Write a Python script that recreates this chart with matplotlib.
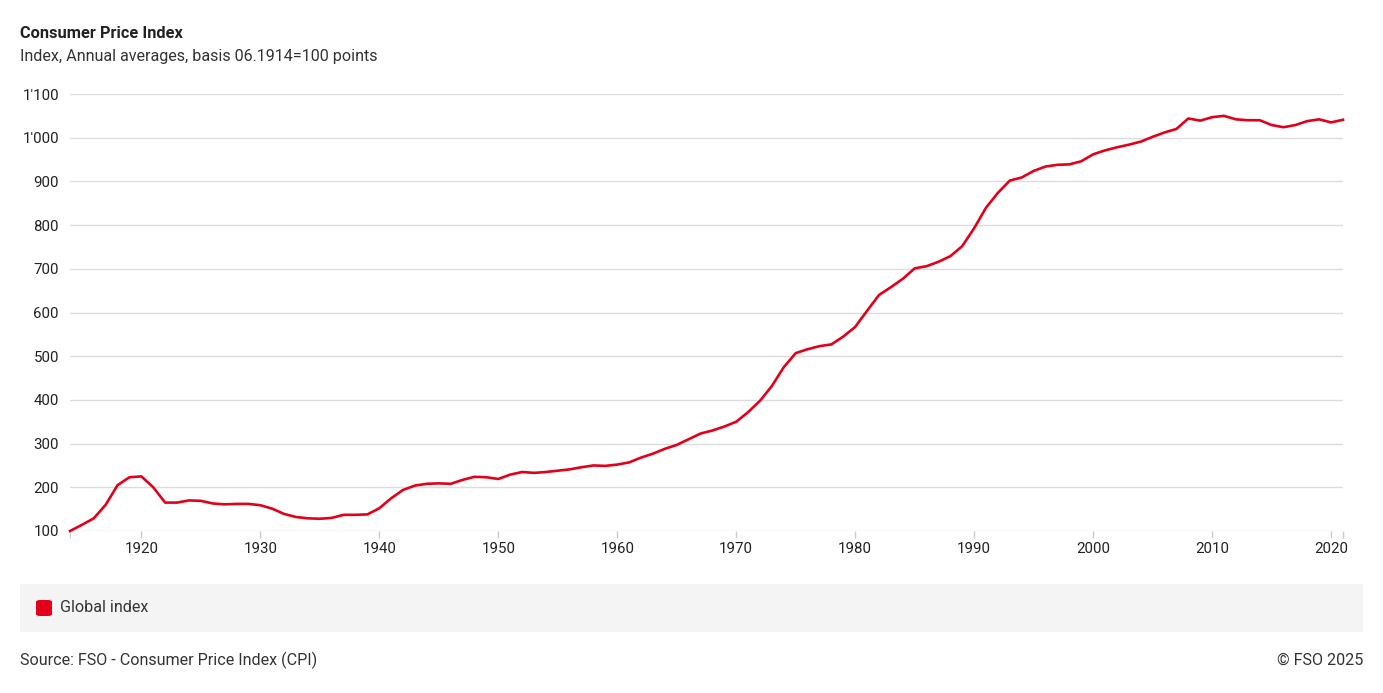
import matplotlib
matplotlib.use('Agg')
import matplotlib.pyplot as plt
from matplotlib.patches import FancyBboxPatch, Rectangle
from matplotlib.ticker import FuncFormatter

plt.rcParams['font.family'] = ['Roboto', 'DejaVu Sans']

# Consumer price index, annual averages, basis 06.1914 = 100
years = list(range(1914, 2022))
cpi = [
    100, 114, 129, 160, 205, 223, 225, 200, 165, 165,   # 1914-1923
    170, 169, 163, 161, 162, 162, 159, 151, 139, 132,   # 1924-1933
    129, 128, 130, 137, 137, 138, 152, 175, 194, 204,   # 1934-1943
    208, 209, 208, 217, 224, 223, 219, 229, 235, 233,   # 1944-1953
    235, 238, 241, 246, 250, 249, 252, 257, 268, 277,   # 1954-1963
    288, 297, 310, 323, 330, 339, 350, 372, 398, 432,   # 1964-1973
    475, 507, 516, 523, 527, 545, 567, 604, 640, 658,   # 1974-1983
    677, 701, 706, 716, 729, 752, 793, 840, 874, 902,   # 1984-1993
    909, 924, 934, 938, 939, 946, 962, 971, 978, 984,   # 1994-2003
    991, 1002, 1012, 1020, 1044, 1039, 1047, 1050, 1042, 1040,  # 2004-2013
    1040, 1029, 1024, 1029, 1038, 1042, 1035, 1041,     # 2014-2021
]
series_name = 'Global index'
y_ticks = list(range(100, 1101, 100))
x_ticks = list(range(1920, 2021, 10))

red = '#e2001a'
W, H = 1383, 693

fig = plt.figure(figsize=(W / 100, H / 100), dpi=100)
ax = fig.add_axes([70 / W, 1 - 531 / H, (1343 - 70) / W, (531 - 94) / H])

ax.plot(years, cpi, color=red, lw=1.9, solid_joinstyle='round', zorder=3, clip_on=False)

ax.set_xlim(1914, 2021)
ax.set_ylim(100, 1100)
ax.set_yticks(y_ticks)
ax.set_xticks(x_ticks)
ax.set_xticks([1914, 2021], minor=True)
ax.yaxis.set_major_formatter(FuncFormatter(lambda v, p: f'{int(v):,}'.replace(',', "'")))

for s in ax.spines.values():
    s.set_visible(False)
ax.grid(axis='y', color='#dcdcdc', lw=1)
ax.set_axisbelow(True)
ax.tick_params(axis='y', length=0, pad=8, labelsize=10.8, labelcolor='#222222')
ax.tick_params(axis='x', which='both', length=5, color='#cccccc', width=1, pad=3,
               labelsize=10.8, labelcolor='#222222')

# titles
fig.text(20 / W, 1 - 33 / H, 'Consumer Price Index', fontsize=11.8, fontweight='bold',
         color='#222222', va='center', ha='left')
fig.text(20 / W, 1 - 56 / H, 'Index, Annual averages, basis 06.1914=100 points', fontsize=11.6,
         color='#333333', va='center', ha='left')

# legend box
fig.patches.append(Rectangle((20 / W, 1 - 632 / H), (1363 - 20) / W, 48 / H,
                             transform=fig.transFigure, facecolor='#f4f4f4', edgecolor='none'))
fig.patches.append(FancyBboxPatch((36 / W, 1 - 616 / H), 16 / W, 16 / H,
                                  boxstyle='round,pad=0,rounding_size=0.003',
                                  transform=fig.transFigure, facecolor=red, edgecolor='none'))
fig.text(60 / W, 1 - 608 / H, series_name, fontsize=11.6, color='#333333', va='center', ha='left')

# footer
fig.text(20 / W, 1 - 660 / H, 'Source: FSO - Consumer Price Index (CPI)', fontsize=11.6,
         color='#333333', va='center', ha='left')
fig.text(1363 / W, 1 - 660 / H, '© FSO 2025', fontsize=11.6, color='#333333', va='center', ha='right')

fig.savefig('out.png', dpi=100)
